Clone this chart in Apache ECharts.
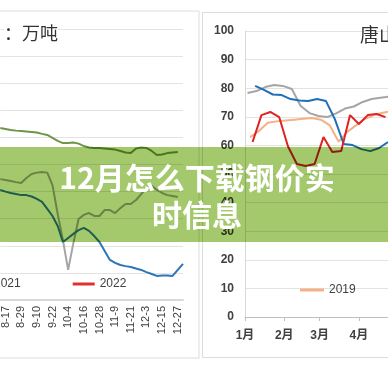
<!DOCTYPE html>
<html><head><meta charset="utf-8">
<script src="https://cdn.jsdelivr.net/npm/echarts@6/dist/echarts.min.js"></script>
<style>html,body{margin:0;padding:0;background:#fff}#c{width:388px;height:388px}</style>
</head><body><div id="c"></div>
<script>
// ---- left chart (weekly stock, unit 万吨) ----
const leftDates = ['8-13','8-17','8-21','8-25','8-29','9-2','9-6','9-10','9-14','9-18','9-22','9-26','9-30','10-4','10-8','10-12','10-16','10-20','10-24','10-28','11-1','11-5','11-9','11-13','11-17','11-21','11-25','11-29','12-3','12-7','12-11','12-15','12-19','12-23','12-27','12-31'];
const leftOlive = [63.5,63.1,62.7,62.5,62.4,62.2,62.0,61.8,61.3,60.9,59.8,58.7,57.9,57.9,58.1,57.7,56.8,56.3,56.1,56.1,55.9,55.7,55.5,55.0,54.4,54.2,55.9,56.3,56.1,55.0,53.5,53.7,54.2,54.4,54.6,null];
const leftGray = [44.6,44.3,43.9,43.5,43.2,45.0,46.5,47.0,47.2,47.0,42.4,31.7,22.1,11.1,21.0,29.9,31.4,32.1,31.0,31.0,33.2,33.2,32.1,33.9,35.4,35.4,36.9,39.1,41.3,42.1,40.6,39.5,38.7,38.4,38.0,null];
const leftBlue = [40.6,40.0,39.5,39.1,38.7,38.7,38.2,37.3,36.2,33.6,31.0,27.3,21.4,22.9,24.4,25.8,26.6,25.5,23.6,21.4,18.1,14.8,13.7,12.9,12.5,12.2,11.6,11.1,10.3,9.6,8.9,9.0,9.0,8.9,11.1,13.3];
const leftRed = leftDates.map(() => null);
const leftLegendNames = ['2021','2022'];

// ---- right chart (唐山, % by day of year) ----
const rightMonths = ['1月','2月','3月','4月','5月','6月','7月','8月','9月','10月','11月','12月'];
const monthStartDays = [0,31,59,90,120,151,181,212,243,273,304,334];
const r2019Days = [4,11,18,25,32,39,46,53,60,67,74,81,88,95,102,109,116];
const r2019 = [62.9,65.0,67.9,68.4,68.7,69.0,69.3,69.6,69.0,67.0,61.3,64.8,67.1,69.3,70.7,71.4,72.0];
const r2020Days = [2,9,16,23,30,37,44,51,58,65,72,79,86,93,100,107,114];
const r2020 = [78.3,79.0,80.4,81.1,80.8,79.7,73.8,71.3,70.3,69.9,71.2,72.9,73.6,75.2,76.2,76.7,77.1];
const r2021Days = [8,15,22,29,36,43,50,57,64,71,78,85,92,99,106,113];
const r2021 = [80.8,79.4,77.8,77.6,76.2,75.7,75.5,76.2,75.5,69.2,60.5,60.1,58.7,58.0,59.1,61.2];
const r2022Days = [6,13,20,27,34,41,48,55,62,69,76,83,90,97,104,111];
const r2022 = [61.2,70.6,71.7,69.9,59.6,53.5,52.8,53.5,62.9,57.7,58.0,70.6,67.5,70.6,71.0,69.9];
const rightLegendNames = ['2019'];

const zip = (a, b) => a.map((d, i) => [d, b[i]]);
const FONT = '"Liberation Sans", "Noto Sans CJK SC", sans-serif';

const lineS = (name, color, data, xi) => ({
  name, type: 'line', xAxisIndex: xi, yAxisIndex: xi, data, symbol: 'none',
  lineStyle: { color, width: 2 }, itemStyle: { color }, connectNulls: false, silent: true
});

const visibleMonths = monthStartDays.filter(d => d <= 113);

const chart = echarts.init(document.getElementById('c'), null, { renderer: 'canvas' });
chart.setOption({
  backgroundColor: '#ffffff',
  animation: false,
  textStyle: { fontFamily: FONT },
  grid: [
    { left: 0, top: 29, width: 183, height: 271 },
    { left: 245, top: 31, width: 143, height: 286 }
  ],
  xAxis: [
    { type: 'category', gridIndex: 0, data: leftDates, boundaryGap: false,
      axisLine: { lineStyle: { color: '#d9d9d9', width: 2 } },
      axisTick: { show: false },
      axisLabel: { rotate: 90, fontSize: 11, color: '#404040', margin: 6, interval: (i) => i % 3 === 1 },
      splitLine: { show: false } },
    { type: 'value', gridIndex: 1, min: 0, max: 113,
      axisLine: { lineStyle: { color: '#bfbfbf' } },
      axisTick: { show: true, customValues: visibleMonths, length: 4, lineStyle: { color: '#bfbfbf' } },
      axisLabel: { customValues: visibleMonths, fontSize: 12, fontWeight: 'bold', color: '#404040', margin: 13,
        showMinLabel: true, hideOverlap: false,
        formatter: (v) => rightMonths[monthStartDays.indexOf(v)] },
      splitLine: { show: false } }
  ],
  yAxis: [
    { type: 'value', gridIndex: 0, min: 0, max: 100, interval: 10,
      axisLine: { show: false }, axisTick: { show: false }, axisLabel: { show: false },
      splitLine: { lineStyle: { color: '#e3e3e3' } } },
    { type: 'value', gridIndex: 1, min: 0, max: 100, interval: 10,
      axisLine: { show: true, lineStyle: { color: '#d9d9d9' } }, axisTick: { show: false },
      axisLabel: { fontSize: 12, fontWeight: 'bold', color: '#404040', margin: 11 },
      splitLine: { lineStyle: { color: '#e3e3e3' } } }
  ],
  legend: [
    { data: leftLegendNames, left: -38, top: 273, itemGap: 52, itemWidth: 22, itemHeight: 3, icon: 'rect',
      textStyle: { fontSize: 12, color: '#404040' }, selectedMode: false },
    { data: rightLegendNames, left: 295, top: 279, itemWidth: 24, itemHeight: 3, icon: 'rect',
      textStyle: { fontSize: 12, color: '#404040' }, selectedMode: false }
  ],
  series: [
    lineS('2020', '#6f9648', leftOlive, 0),
    lineS('2021', '#a5a5a5', leftGray, 0),
    lineS('2022', '#e03030', leftRed, 0),
    lineS('2023', '#2e75b6', leftBlue, 0),
    lineS('2019', '#f4b183', zip(r2019Days, r2019), 1),
    lineS('2020', '#a5a5a5', zip(r2020Days, r2020), 1),
    lineS('2021', '#1f6fb8', zip(r2021Days, r2021), 1),
    lineS('2022', '#e02222', zip(r2022Days, r2022), 1)
  ],
  graphic: [
    { type: 'rect', z: -1, shape: { x: -5, y: 11, width: 204, height: 347 },
      style: { fill: 'none', stroke: '#dcdcdc', lineWidth: 1 } },
    { type: 'rect', z: -1, shape: { x: 202.5, y: 12.5, width: 200, height: 345 },
      style: { fill: 'none', stroke: '#dcdcdc', lineWidth: 1 } },
    { type: 'text', z: 10, x: 58, y: 33,
      style: { text: '：万吨', fontSize: 18, fill: '#333', align: 'right', verticalAlign: 'middle',
        fontFamily: '"Noto Sans CJK SC", sans-serif', backgroundColor: '#fff' } },
    { type: 'text', z: 10, x: 360, y: 35,
      style: { text: '唐山高炉开工率', fontSize: 19, fill: '#333', align: 'left', verticalAlign: 'middle',
        fontFamily: '"Noto Sans CJK SC", sans-serif' } },
    { type: 'rect', z: 100, shape: { x: 0, y: 147, width: 388, height: 95 },
      style: { fill: '#a4c96c', blend: 'multiply' } },
    { type: 'text', z: 101, x: 197, y: 178,
      style: { text: '12月怎么下载钢价实', fontSize: 30, fontWeight: 'bold', fill: '#ffffff',
        align: 'center', verticalAlign: 'middle', fontFamily: '"Noto Sans CJK SC", sans-serif' } },
    { type: 'text', z: 101, x: 197, y: 215,
      style: { text: '时信息', fontSize: 30, fontWeight: 'bold', fill: '#ffffff',
        align: 'center', verticalAlign: 'middle', fontFamily: '"Noto Sans CJK SC", sans-serif' } }
  ]
});
</script>
</body></html>
